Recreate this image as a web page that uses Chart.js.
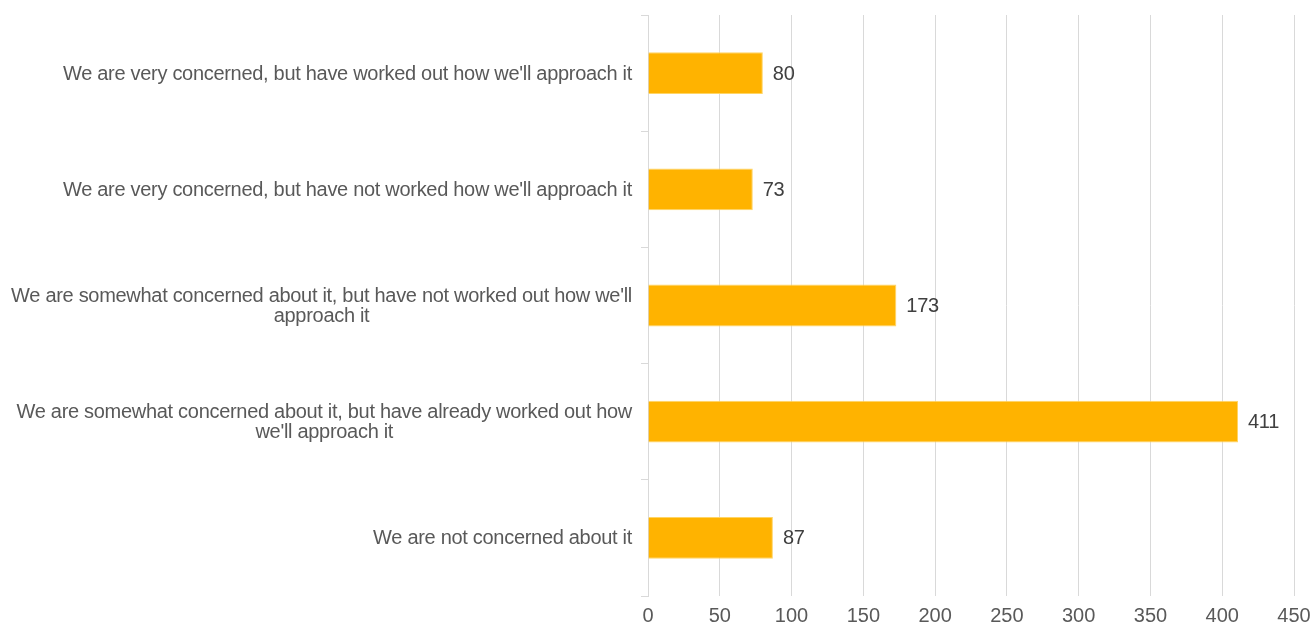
<!DOCTYPE html>
<html lang="en">
<head>
<meta charset="UTF-8">
<title>How concerned are you about it?</title>
<script src="https://cdn.jsdelivr.net/npm/chart.js"></script>
<style>
  html, body { margin: 0; padding: 0; background: #fff; overflow: hidden; }
  #wrap { position: relative; width: 1311px; height: 640px; }
</style>
</head>
<body>
<div id="wrap"><canvas id="chart"></canvas></div>
<script>
// answers, top to bottom (multi-line labels split into rows)
const categories = [
  ["We are very concerned, but have worked out how we'll approach it"],
  ["We are very concerned, but have not worked how we'll approach it"],
  ["We are somewhat concerned about it, but have not worked out how we'll", "approach it"],
  ["We are somewhat concerned about it, but have already worked out how", "we'll approach it"],
  ["We are not concerned about it"]
];
const responses = [80, 73, 173, 411, 87];
const xTicks = [0, 50, 100, 150, 200, 250, 300, 350, 400, 450];

const FONT = '"Liberation Sans", Arial, sans-serif';

// category names (right aligned block, lines centred) and value labels
const sideLabels = {
  id: 'sideLabels',
  afterDraw(chart) {
    const { ctx, chartArea, scales: { x, y } } = chart;
    ctx.save();
    ctx.font = '20px ' + FONT;
    ctx.letterSpacing = '-0.3px';
    ctx.textBaseline = 'middle';

    ctx.fillStyle = '#595959';
    ctx.textAlign = 'center';
    const right = chartArea.left - 16;
    const lh = 20;
    categories.forEach((lines, i) => {
      const cy = y.getPixelForValue(i) + 1;
      const w = Math.max(...lines.map(l => ctx.measureText(l).width));
      lines.forEach((l, j) => {
        ctx.fillText(l, right - w / 2, cy + (j - (lines.length - 1) / 2) * lh);
      });
    });

    ctx.fillStyle = '#404040';
    ctx.textAlign = 'left';
    responses.forEach((v, i) => {
      ctx.fillText(String(v), x.getPixelForValue(v) + 10, y.getPixelForValue(i) + 1);
    });
    ctx.restore();
  }
};

new Chart(document.getElementById('chart'), {
  type: 'bar',
  data: {
    labels: categories.map(c => c.join(' ')),
    datasets: [{
      data: responses,
      backgroundColor: '#FFB300',
      borderColor: '#FFD566',
      borderWidth: 1,
      barPercentage: 0.36,
      categoryPercentage: 1
    }]
  },
  options: {
    indexAxis: 'y',
    responsive: true,
    maintainAspectRatio: false,
    animation: false,
    layout: { padding: { left: 641, right: 17, top: 15, bottom: 4 } },
    plugins: { legend: { display: false }, tooltip: { enabled: false } },
    scales: {
      x: {
        min: xTicks[0],
        max: xTicks[xTicks.length - 1],
        afterBuildTicks: scale => { scale.ticks = xTicks.map(v => ({ value: v })); },
        // let the last tick label run up to the canvas edge
        afterFit: scale => { scale.paddingLeft = 0; scale.paddingRight = 0; },
        grid: { color: '#d9d9d9', lineWidth: 1, drawTicks: false },
        border: { display: false },
        ticks: { padding: 8, color: '#595959', font: { family: FONT, size: 20 }, autoSkip: false, maxRotation: 0 }
      },
      y: {
        grid: { drawOnChartArea: false, drawTicks: true, tickLength: 7, color: '#d9d9d9' },
        border: { color: '#d9d9d9' },
        ticks: { display: false }
      }
    }
  },
  plugins: [sideLabels]
});
</script>
</body>
</html>
